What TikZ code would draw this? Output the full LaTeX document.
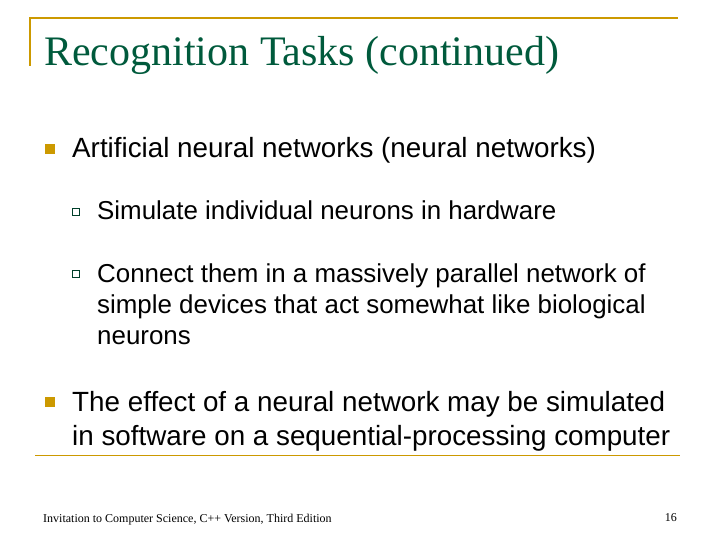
\documentclass[tikz,border=0pt]{standalone}
\usepackage{fontspec}
\setmainfont{Liberation Serif}
\setsansfont{Liberation Sans}
\definecolor{slidegold}{RGB}{204,153,0}
\definecolor{slidegreen}{RGB}{0,90,60}
\tikzset{
  line/.style={anchor=base west, inner sep=0pt, font=\sffamily\fontsize{27.8}{32}\selectfont},
  subline/.style={line, font=\sffamily\fontsize{25.9}{30}\selectfont},
  bullet/.style={fill=slidegold, minimum size=10pt, inner sep=0pt},
  subbullet/.style={draw=slidegreen!70!black, thick, minimum size=7.5pt, inner sep=0pt},
}
\begin{document}
\begin{tikzpicture}[x=1pt, y=-1pt]
  \useasboundingbox (0,0) rectangle (720,540);
  % frame
  \coordinate (tl) at (30,66);
  \draw[slidegold, line width=2.5pt] (tl) |- (678,18);
  \draw[slidegold, line width=1pt] (35,455) -- (680,455);
  \node[anchor=base west, inner sep=0pt, text=slidegreen, font=\fontsize{42}{46}\selectfont] (title) at (44,66) {Recognition Tasks (continued)};

  % first level
  \node[bullet] (b1) at (50,149) {};
  \node[line] (l1) at (72,158) {Artificial neural networks (neural networks)};
  \node[subbullet] (s1) at (76,212) {};
  \node[subline] (l2) at (97,220) {Simulate individual neurons in hardware};
  \node[subbullet] (s2) at (76,274) {};
  \node[subline] (l3) at (97,282) {Connect them in a massively parallel network of};
  \node[subline] (l4) at (97,313) {simple devices that act somewhat like biological};
  \node[subline] (l5) at (97,344) {neurons};
  \node[bullet] (b2) at (50,402) {};
  \node[line] (l6) at (72,411) {The effect of a neural network may be simulated};
  \node[line] (l7) at (72,445) {in software on a sequential-processing computer};

  % footer
  \node[anchor=base west, inner sep=0pt, font=\fontsize{12}{14}\selectfont] (foot) at (43,522) {Invitation to Computer Science, C++ Version, Third Edition};
  \node[anchor=base east, inner sep=0pt, font=\fontsize{12}{14}\selectfont] (page) at (677,521) {16};
\end{tikzpicture}
\end{document}
